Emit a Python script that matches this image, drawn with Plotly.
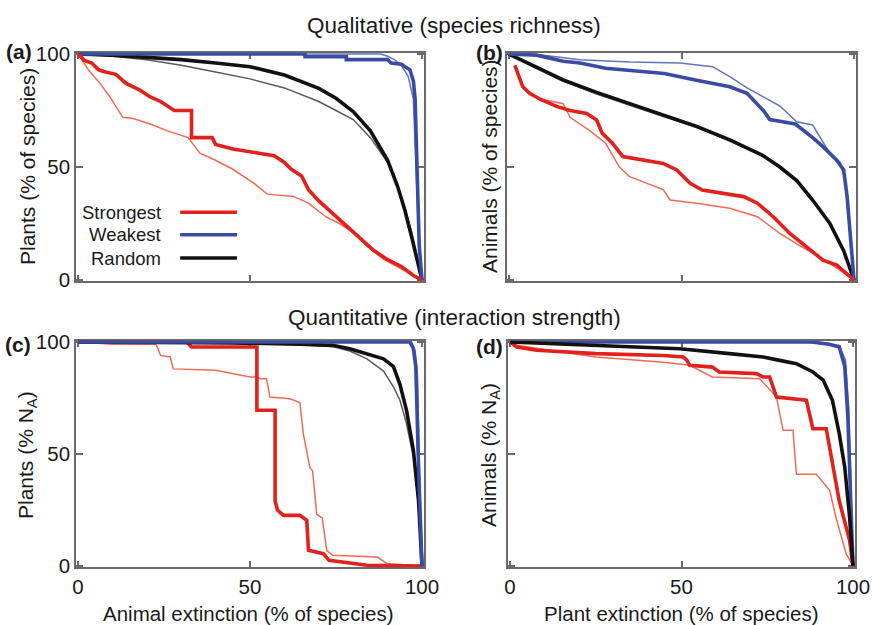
import plotly.graph_objects as go

W, H = 872, 625
FONT = "Liberation Sans, Arial, sans-serif"

# ---------------- data (x: % extinction, y: % remaining) ----------------
# Panel (a): qualitative, plants vs animal extinction
a_str_x = [0, 2, 4, 6, 8, 11, 14, 18, 21, 24, 28, 33, 33, 39, 40, 45, 53, 57, 60, 62, 65, 67, 70, 74, 78, 82, 86, 90, 94, 97.5, 100]
a_str_y = [100, 97, 96, 93, 92, 91, 87, 84, 81, 79, 75, 75, 63, 63, 60, 58, 56, 55, 52, 49, 46, 40, 35, 29.5, 24, 18, 13, 9, 6, 2, 0]
a_str2_x = [0, 3, 6.4, 9.3, 13, 16, 21, 26, 32, 35.5, 40, 45, 51, 55, 62.6, 67, 72, 76, 80, 84, 89, 94, 97.5, 100]
a_str2_y = [100, 93, 87, 81, 72, 71.5, 69, 66, 63, 56, 53, 49, 43, 38, 37, 34, 28, 25, 21, 15, 9, 5, 2, 0]
a_weak_x = [0, 66, 66, 78, 78, 90, 91, 94, 96.5, 97.5, 98, 98.5, 99.2, 100]
a_weak_y = [100, 100, 98.8, 98.8, 97.5, 97.5, 96, 95.5, 93, 88, 80, 50, 15, 0]
a_weak2_x = [0, 88, 90, 92, 94, 96, 97.5, 98.3, 99, 100]
a_weak2_y = [100, 100, 99, 97.5, 95, 90, 80, 50, 20, 0]
a_rand_x = [0, 10, 20, 30, 40, 50, 60, 70, 75, 80, 85, 90, 93, 95, 97, 99, 100]
a_rand_y = [100, 99.5, 98.5, 97.5, 96, 94.4, 90.7, 84.8, 80.4, 74.5, 66, 53, 41, 31, 19, 7, 0]
a_rand2_y = [100, 99, 97.5, 95, 92, 89, 85, 79, 75, 71, 63, 52, 41, 32, 21, 7, 0]

# Panel (b): qualitative, animals vs plant extinction
b_str_x = [1.7, 4, 6, 9, 14, 17.7, 22.5, 25.4, 27, 30, 33, 39, 44.7, 48.6, 52.5, 56, 62, 68, 72, 76.6, 81.4, 86, 91, 95, 100]
b_str_y = [95, 85.5, 82.6, 80, 76.7, 75, 73.7, 70.8, 65, 60.5, 54.6, 53, 51.6, 48.7, 42.8, 39.8, 38.3, 36.9, 34, 28, 20.6, 14.7, 8.8, 6.6, 0]
b_str2_x = [1.7, 4, 6, 9, 12.8, 15.7, 17.7, 23.5, 28, 32, 35, 44.7, 46.7, 54.4, 64, 72, 78.5, 83.4, 93, 100]
b_str2_y = [95, 85.5, 82.6, 80, 79, 78, 72, 66, 60.5, 50, 45.7, 40, 35.4, 34, 31.7, 28, 20.6, 16, 7.4, 0]
b_weak_x = [0, 8, 15.7, 20.6, 28, 45, 54, 64, 69, 73.7, 75.6, 83, 88, 91, 95, 97, 98, 100]
b_weak_y = [100, 99.5, 96.8, 96, 93.7, 91.4, 88.5, 85.5, 82.6, 75, 71, 69, 63, 59, 53, 48.7, 37, 0]
b_weak2_x = [0, 10, 20.6, 35, 49.6, 59, 64, 69, 73.7, 78.5, 83.4, 88, 93, 96, 97.4, 100]
b_weak2_y = [100, 99.5, 97.5, 96.5, 96, 94.4, 90, 85, 81, 77, 70, 68.6, 56, 52, 44, 0]
b_rand_x = [0, 15.7, 25.4, 35, 44.7, 54.4, 64, 73.7, 78.5, 83.4, 88, 93, 97, 100]
b_rand_y = [100, 88.5, 83, 78, 73, 68, 62, 55, 50, 44, 35.4, 25, 13, 0]
b_rand2_y = [100, 88, 82.3, 77.2, 72.3, 67.5, 61.6, 54.7, 49.8, 44, 35.4, 25, 13, 0]

# Panel (c): quantitative, plants vs animal extinction
c_str_x = [0, 31.6, 33, 52, 52, 57.3, 57.3, 58, 59.7, 64.5, 66.5, 67, 71.3, 73, 84, 100]
c_str_y = [100, 100, 97.8, 97.8, 69.5, 69.5, 29, 25, 22.6, 22.6, 20.4, 7, 5.5, 2.5, 0.3, 0]
c_str2_x = [0, 10, 22.7, 24, 26.8, 27.7, 40, 50, 52, 53, 54.8, 55.8, 61.6, 64.5, 65.5, 67.4, 68.2, 69.4, 71, 72.3, 74, 87, 90, 100]
c_str2_y = [100, 99, 99, 94, 93.3, 88, 87.4, 84.4, 84.4, 83.6, 83.6, 75.4, 74.7, 73, 59, 44, 42.5, 23, 21.5, 7, 4.8, 4, 1, 0]
c_weak_x = [0, 96.5, 97.5, 98.2, 99, 100]
c_weak_y = [100, 100, 97, 89, 44, 0]
c_weak2_x = [0, 97, 98, 98.7, 99.3, 100]
c_weak2_y = [100, 100, 96, 85, 40, 0]
c_rand_x = [0, 45, 64.5, 74, 79, 84, 88.8, 91.7, 93.6, 95.5, 97.5, 99, 100]
c_rand_y = [100, 99.6, 99, 98.5, 97, 94.8, 92.5, 89, 81, 69.5, 51.6, 29, 0]
c_rand2_y = [100, 99.6, 98.8, 98, 96, 92.5, 87, 80, 74, 63.5, 48.7, 28, 0]

# Panel (d): quantitative, animals vs plant extinction
d_str_x = [0, 2, 7.8, 25, 44.7, 50.5, 51.5, 52.4, 59, 61, 71.8, 73.8, 75.7, 77.7, 86.4, 88.3, 92.2, 93.2, 96, 99, 100]
d_str_y = [100, 97.8, 96.3, 94.8, 94, 93.3, 92, 89.6, 88.8, 86.6, 85.9, 84.4, 84.4, 75.4, 74, 61.3, 61.3, 53, 29, 11.5, 0]
d_str2_x = [0, 2, 25, 44.7, 52.4, 59, 72.8, 77.7, 79.6, 82.5, 83.5, 89.3, 93.2, 95, 98, 100]
d_str2_y = [100, 98.5, 93.3, 91, 89.6, 84.4, 83.6, 75.4, 60.6, 60.6, 41, 41, 33.8, 21.9, 5.5, 0]
d_weak_x = [0, 88, 93, 96, 97.6, 98.5, 100]
d_weak_y = [100, 100, 99, 97.8, 89, 66.5, 0]
d_weak2_x = [0, 85, 92, 96, 97.8, 98.8, 100]
d_weak2_y = [100, 100, 99.3, 98.5, 92, 70, 0]
d_rand_x = [0, 25, 49.5, 64, 73.8, 78.6, 83.5, 88.3, 91.3, 94, 96, 97.6, 99, 100]
d_rand_y = [100, 98.5, 97, 94.8, 93.3, 91.8, 90.3, 86.6, 83, 74, 59, 44, 22, 0]

tick_vals = [0, 50, 100]
tick_text = ["0", "50", "100"]
legend_names = ["Strongest", "Weakest", "Random"]

# ---------------- styles ----------------
RED, RED_T = "#e3201b", "#f06a55"
BLUE, BLUE_T = "#3a4ba3", "#6573bf"
BLACK, BLACK_T = "#111111", "#5a5a5a"
THICK, THIN = 3.6, 1.5
FRAME = "#6a6a6a"

PAD = 0.6  # range padding (% of span) so lines at 0/100 are not clipped


def xdom(p0, p1):
    e = (p1 - p0) * PAD / 100
    return [(p0 - e) / W, (p1 + e) / W]


def ydom(top, bot):
    e = (bot - top) * PAD / 100
    return [1 - (bot + e) / H, 1 - (top - e) / H]


panels = {
    "a": dict(xa="x", ya="y", xd=xdom(78, 422), yd=ydom(54, 280)),
    "b": dict(xa="x2", ya="y2", xd=xdom(509, 854), yd=ydom(54, 280)),
    "c": dict(xa="x3", ya="y3", xd=xdom(78, 422), yd=ydom(342, 566)),
    "d": dict(xa="x4", ya="y4", xd=xdom(510, 853), yd=ydom(342, 566)),
}

series = {
    "a": [(a_rand_x, a_rand2_y, BLACK_T, THIN), (a_rand_x, a_rand_y, BLACK, THICK),
          (a_weak2_x, a_weak2_y, BLUE_T, THIN), (a_weak_x, a_weak_y, BLUE, THICK),
          (a_str2_x, a_str2_y, RED_T, THIN), (a_str_x, a_str_y, RED, THICK)],
    "b": [(b_rand_x, b_rand2_y, BLACK_T, THIN), (b_rand_x, b_rand_y, BLACK, THICK),
          (b_weak2_x, b_weak2_y, BLUE_T, THIN), (b_weak_x, b_weak_y, BLUE, THICK),
          (b_str2_x, b_str2_y, RED_T, THIN), (b_str_x, b_str_y, RED, THICK)],
    "c": [(c_str2_x, c_str2_y, RED_T, THIN), (c_str_x, c_str_y, RED, THICK),
          (c_rand_x, c_rand2_y, BLACK_T, THIN), (c_rand_x, c_rand_y, BLACK, THICK),
          (c_weak2_x, c_weak2_y, BLUE_T, THIN), (c_weak_x, c_weak_y, BLUE, THICK)],
    "d": [(d_weak2_x, d_weak2_y, BLUE_T, THIN), (d_weak_x, d_weak_y, BLUE, THICK),
          (d_str2_x, d_str2_y, RED_T, THIN), (d_str_x, d_str_y, RED, THICK),
          (d_rand_x, d_rand_y, BLACK, THICK)],
}

fig = go.Figure()
for key, p in panels.items():
    for xs, ys, col, w in series[key]:
        fig.add_trace(go.Scatter(x=xs, y=ys, mode="lines", xaxis=p["xa"], yaxis=p["ya"],
                                 line=dict(color=col, width=w), showlegend=False,
                                 hoverinfo="skip"))

axis_common = dict(range=[0 - PAD, 100 + PAD], tickvals=tick_vals, ticktext=tick_text,
                   showgrid=False, zeroline=False, showline=True, mirror="ticks",
                   linecolor=FRAME, linewidth=1.5, ticks="inside", ticklen=7,
                   tickwidth=1.5, tickcolor=FRAME, layer="below traces",
                   automargin=False,
                   tickfont=dict(family=FONT, size=20.5, color="#1a1a1a"), fixedrange=True)

layout = dict(width=W, height=H, autosize=False, margin=dict(l=0, r=0, t=0, b=0, pad=0),
              paper_bgcolor="white", plot_bgcolor="white", showlegend=False,
              font=dict(family=FONT, color="#1a1a1a"))
for i, (key, p) in enumerate(panels.items()):
    sfx = "" if i == 0 else str(i + 1)
    xa = dict(axis_common, domain=p["xd"], anchor=p["ya"],
              showticklabels=key in ("c", "d"))
    ya = dict(axis_common, domain=p["yd"], anchor=p["xa"],
              showticklabels=key in ("a", "c"))
    layout["xaxis" + sfx] = xa
    layout["yaxis" + sfx] = ya
fig.update_layout(**layout)


def ann(text, px, py, size=21, bold=False, angle=0, xanchor="center"):
    fig.add_annotation(text=f"<b>{text}</b>" if bold else text, x=px / W, y=1 - py / H,
                       xref="paper", yref="paper", showarrow=False, textangle=angle,
                       xanchor=xanchor, yanchor="middle",
                       font=dict(family=FONT, size=size, color="#1a1a1a"))


ann("Qualitative (species richness)", 454, 25, size=22.5)
ann("Quantitative (interaction strength)", 454, 317, size=22.5)
ann("(a)", 19, 52, size=21, bold=True)
ann("(b)", 489, 53, size=21, bold=True)
ann("(c)", 18, 344, size=21, bold=True)
ann("(d)", 489, 346, size=21, bold=True)
ann("Plants (% of species)", 27, 167, angle=-90)
ann("Animals (% of species)", 489, 166, angle=-90)
ann("Plants (% N<sub>A</sub>)", 27, 455, angle=-90)
ann("Animals (% N<sub>A</sub>)", 490, 455, angle=-90)
ann("Animal extinction (% of species)", 249, 613, size=20.5)
ann("Plant extinction (% of species)", 681, 613, size=20.5)

# legend inside panel (a): text then a line sample (panel-a axis coordinates)
leg_y = [30, 20, 9.7]
leg_col = [RED, BLUE, BLACK]
for name, yy, col in zip(legend_names, leg_y, leg_col):
    fig.add_annotation(text=name, x=24.7, y=yy, xref="x", yref="y", showarrow=False,
                       xanchor="right", yanchor="middle",
                       font=dict(family=FONT, size=18.5, color="#1a1a1a"))
    fig.add_shape(type="line", x0=29.7, x1=46.2, y0=yy, y1=yy, xref="x", yref="y",
                  line=dict(color=col, width=3.6))

fig.write_html("out.html", config={"displayModeBar": False})
